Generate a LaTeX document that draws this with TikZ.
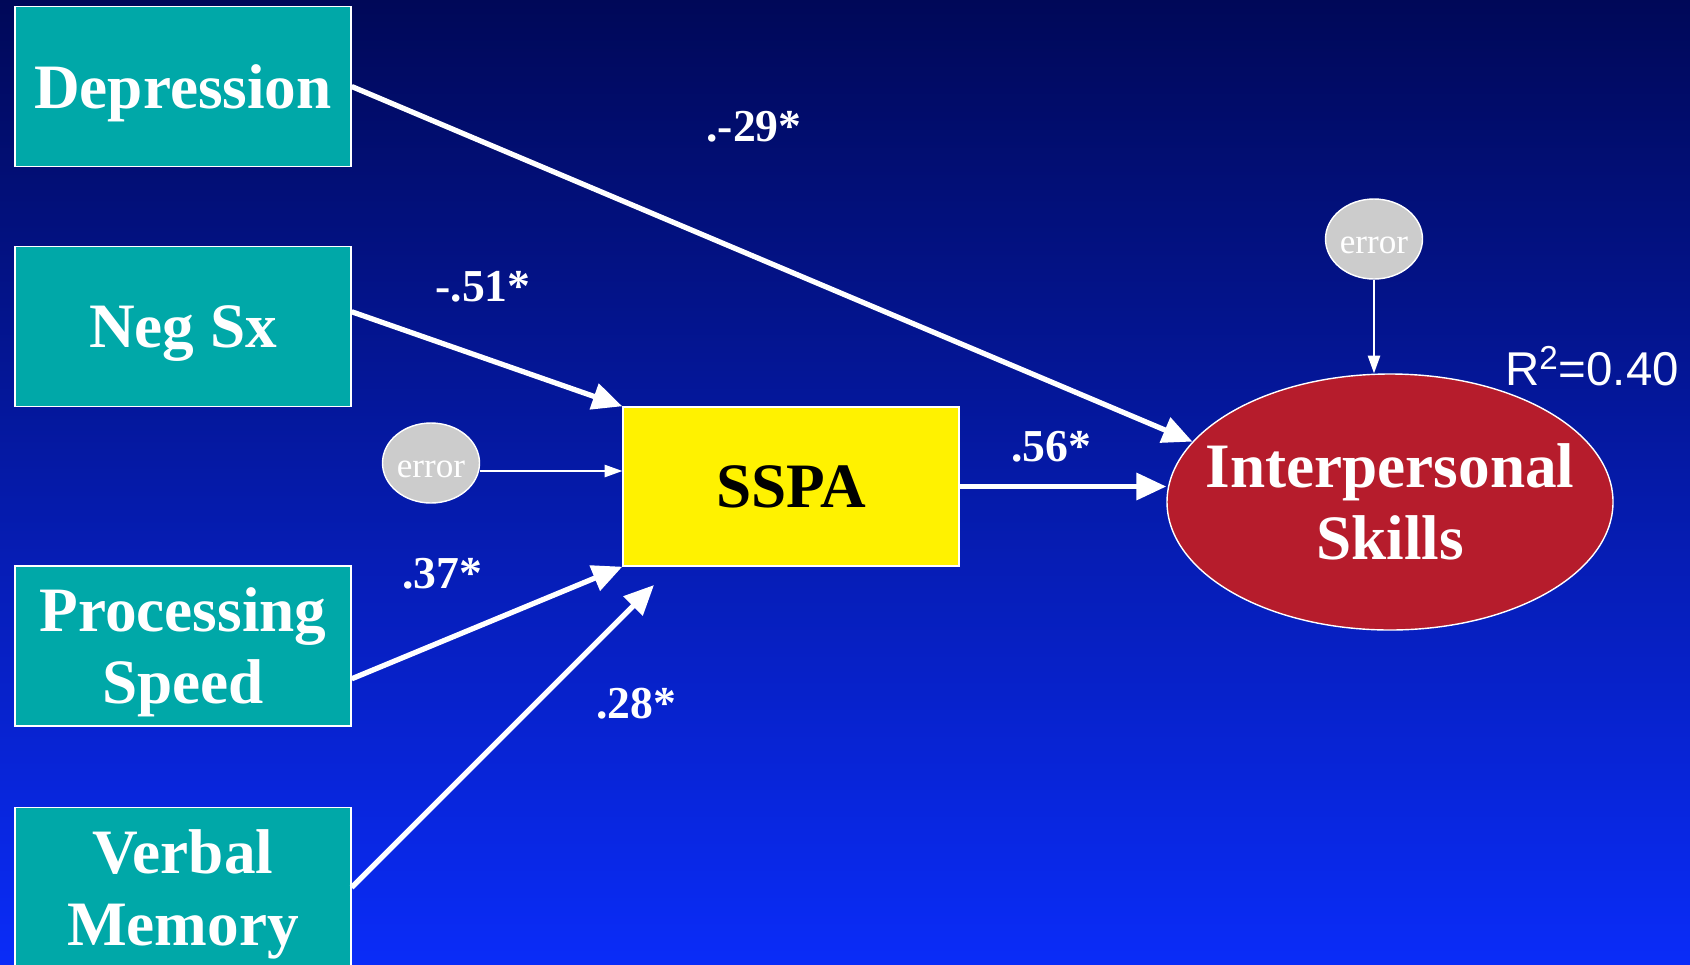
\documentclass[tikz,border=0pt]{standalone}
\usepackage{fontspec}
\setmainfont{Liberation Serif}
\newfontfamily\arialFont{Liberation Sans}
\usetikzlibrary{arrows.meta,shapes.geometric}

\definecolor{skyTop}{RGB}{0,8,88}
\definecolor{skyMid}{RGB}{4,30,178}
\definecolor{skyBottom}{RGB}{10,44,248}
\definecolor{tealBox}{RGB}{0,168,168}
\definecolor{redEllipse}{RGB}{182,28,44}
\definecolor{errGray}{RGB}{204,204,204}

\def \px {0.02cm}
\def \bigFont {\bfseries\fontsize{36}{41}\selectfont}
\def \coefFont {\bfseries\fontsize{26}{30}\selectfont}

\tikzset{
  varbox/.style={draw=white, line width=0.8pt, fill=tealBox, text=white, align=center,
    minimum width=336*\px, minimum height=160*\px, inner sep=0pt, text depth=0pt, font=\bigFont},
  errnode/.style={ellipse, draw=white, line width=0.8pt, fill=errGray, text=white,
    minimum width=97*\px, minimum height=80*\px, inner sep=0pt, text height=16pt, text depth=0pt,
    font=\fontsize{20}{24}\selectfont},
  coef/.style={text=white, font=\coefFont},
  thickarrow/.style={draw=white, line width=3pt, -{Triangle[length=17pt,width=15pt]}},
  thinarrow/.style={draw=white, line width=0.8pt, -{Triangle[length=10pt,width=7pt]}}
}

\begin{document}
\begin{tikzpicture}[x=0.02cm, y=-0.02cm]
   \useasboundingbox (0,0) rectangle (1690,964);
   \clip (0,0) rectangle (1690,964);
   \shade[top color=skyTop, middle color=skyMid, bottom color=skyBottom] (0,0) rectangle (1690,964);

   % predictors
   \node[varbox] (dep) at (183,86.5) {Depression};
   \node[varbox] (negsx) at (183,326.5) {Neg Sx};
   \node[varbox] (proc) at (183,646) {Processing\\Speed};
   \node[varbox] (verb) at (183,887.5) {Verbal\\Memory};

   % mediator and outcome
   \node[draw=white, line width=0.8pt, fill=yellow, text=black, font=\bigFont,
         minimum width=336*\px, minimum height=159*\px, inner sep=0pt] (sspa) at (791,486.5) {SSPA};
   \node[ellipse, draw=white, line width=0.8pt, fill=redEllipse,
         minimum width=446*\px, minimum height=256*\px, inner sep=0pt] (ips) at (1390,502) {};
   \node[text=white, align=center, font=\bigFont] (ipsText) at (ips.center) {Interpersonal\\Skills};

   \node[errnode] (err1) at (431,463) {error};
   \node[errnode] (err2) at (1374,239) {error};
   \node[text=white, font=\arialFont\fontsize{27}{30}\selectfont] (rsq) at (1592,366) {R\textsuperscript{2}=0.40};

   \coordinate (vmEnd) at (654,585);

   % paths
   \draw[thickarrow] (dep.east) -- (ips.163);
   \draw[thickarrow] (negsx.5) -- (sspa.north west);
   \draw[thickarrow] (proc.-11) -- (sspa.south west);
   \draw[thickarrow] (verb.east) -- (vmEnd);
   \draw[thickarrow] (sspa.east) -- (sspa.east -| ips.west);
   \draw[thinarrow] ([yshift=-8*\px]err1.east) -- ([yshift=-8*\px]err1.east -| sspa.west);
   \draw[thinarrow] (err2.south) -- (err2.south |- ips.north);

   \node[coef] (cDep) at (754,127) {.-29*};
   \node[coef] (cNeg) at (483,287) {-.51*};
   \node[coef] (cSspa) at (1051,447) {.56*};
   \node[coef] (cProc) at (442,574) {.37*};
   \node[coef] (cVerb) at (636,704) {.28*};
\end{tikzpicture}
\end{document}
